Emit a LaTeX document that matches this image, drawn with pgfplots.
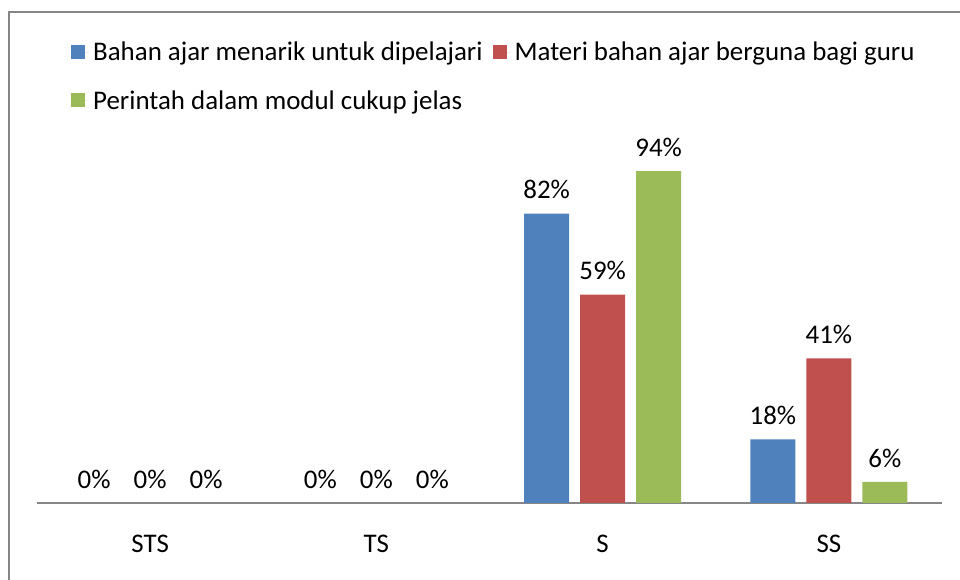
\documentclass[border=0pt]{standalone}
\usepackage{pgfplots}
\pgfplotsset{compat=1.18}
\usepackage{fontspec}
\setmainfont{Carlito}
\definecolor{cblue}{RGB}{79,129,189}
\definecolor{cred}{RGB}{192,80,77}
\definecolor{cgreen}{RGB}{155,187,89}
\definecolor{cframe}{RGB}{134,134,134}
\begin{document}
\begin{tikzpicture}
\path[use as bounding box] (0,0) rectangle (960bp,580bp);
\begin{scope}
\clip (0,0) rectangle (960bp,580bp);
\draw[cframe, line width=2bp] (9bp,-10bp) -- (9bp,567.5bp) -- (975bp,567.5bp);
\end{scope}
\begin{axis}[
  at={(37bp,77bp)}, anchor=south west,
  scale only axis, width=905bp, height=353bp,
  ymin=0, ymax=100, xmin=-0.5, xmax=3.5,
  ybar=11bp, bar width=45bp,
  axis x line*=bottom, x axis line style={-, cframe, line width=1.2bp},
  hide y axis,
  xtick=data, xticklabels={STS,TS,S,SS},
  xtick style={draw=none},
  xticklabel style={font=\fontsize{27}{32}\selectfont, text=black, yshift=-24bp},
  nodes near coords={\pgfmathprintnumber\pgfplotspointmeta\%},
  every node near coord/.append style={font=\fontsize{27}{32}\selectfont, text=black, yshift=11bp},
  /pgf/number format/assume math mode=true,
  legend columns=2, legend cell align=left,
  legend style={at={(axis description cs:0.0343,1.323)}, anchor=north west, draw=none, fill=none,
    font=\fontsize{27}{32}\selectfont, text=black, row sep=20bp,
    /tikz/every even column/.append style={column sep=6bp},
    nodes={inner sep=4bp}},
  legend image code/.code={\fill[#1] (0bp,-7bp) rectangle (14bp,7bp); \path (0bp,0bp) -- (18bp,0bp);},
]
\addplot[fill=cblue, draw=none] coordinates {(0,0) (1,0) (2,82) (3,18)};
\addlegendentry{Bahan ajar menarik untuk dipelajari}
\addplot[fill=cred, draw=none] coordinates {(0,0) (1,0) (2,59) (3,41)};
\addlegendentry{Materi bahan ajar berguna bagi guru}
\addplot[fill=cgreen, draw=none] coordinates {(0,0) (1,0) (2,94) (3,6)};
\addlegendentry{Perintah dalam modul cukup jelas}
\end{axis}
\end{tikzpicture}
\end{document}
